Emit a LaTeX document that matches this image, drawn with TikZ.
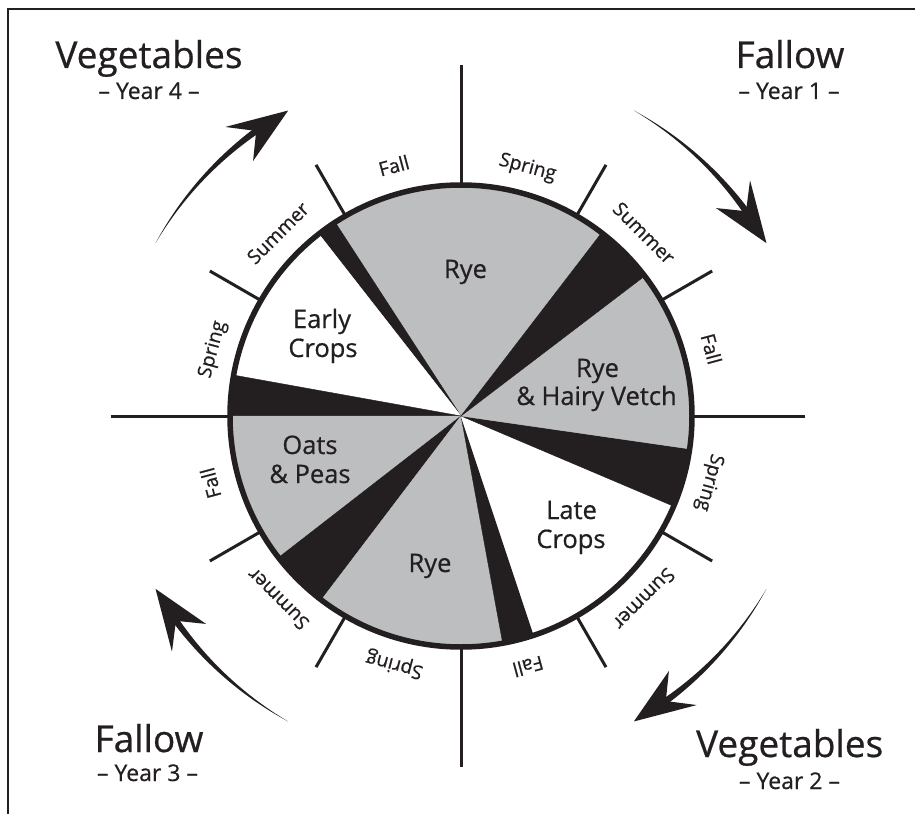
\documentclass[tikz,border=0pt]{standalone}
\usepackage{fontspec}
\setmainfont{Open Sans}[FakeBold=0.6]
\definecolor{ink}{HTML}{231F20}
\definecolor{ryegray}{HTML}{BCBEC0}
\begin{document}
\begin{tikzpicture}[x=1pt,y=1pt,
  season/.style={font=\fontsize{19.5}{19.5}\selectfont, text=ink, anchor=base, inner sep=0pt},
  crop/.style={font=\fontsize{25.5}{28}\selectfont, text=ink, anchor=base, inner sep=0pt},
  title/.style={font=\fontsize{37}{37}\selectfont, text=ink, anchor=base, inner sep=0pt},
  yearlabel/.style={font=\fontsize{23}{23}\selectfont, text=ink, anchor=base, inner sep=0pt},
  axisline/.style={draw=ink, line width=3pt},
  tickline/.style={draw=ink, line width=3pt},
  rim/.style={draw=ink, line width=5.5pt},
  framing/.style={draw=ink, line width=1.2pt},
  arrowfill/.style={fill=ink}]
\useasboundingbox (-461,-398) rectangle (454,416);
\fill[white] (-461,-398) rectangle (454,416);
% frame (top and left only)
\draw[framing] (454,407) -- (-453,407) -- (-453,-398);
% axes
\draw[axisline] (0,351) -- (0,-351);
\draw[axisline] (-350,0) -- (344,0);
% sectors
\foreach \a/\b/\c in {52.5/123/ryegray, 123/128/ink, 128/169.8/white, 169.8/180/ink,
  180/217.8/ryegray, 217.8/232.8/ink, 232.8/280.4/ryegray, 280.4/288.4/ink,
  288.4/337/white, 337/351.8/ink, 351.8/397.3/ryegray, 397.3/412.5/ink}
  \filldraw[fill=\c, draw=\c, line width=0.4pt] (0,0) -- (\a:231pt) arc[start angle=\a, end angle=\b, radius=231pt] -- cycle;
% rim
\draw[rim] (0,0) circle[radius=231pt];
% ticks
\foreach \t in {30,60,120,150,210,240,300,330}
  \draw[tickline] (\t:231pt) -- (\t:290pt);
% season labels
\foreach \ang/\txt [count=\i] in {75/Spring, 45/Summer, 15/Fall, -15/Spring, -45/Summer, -75/Fall,
  -105/Spring, -135/Summer, -165/Fall, 165/Spring, 135/Summer, 105/Fall}
  \node[season, rotate=\ang-90] (season\i) at (\ang:252pt) {\txt};
% crop labels
\node[crop] (rye1) at (4.5,138) {Rye};
\node[crop] (vetchA) at (136.5,39) {Rye};
\node[crop] (vetchB) at (135.5,11) {\& Hairy Vetch};
\node[crop] (earlyA) at (-139,88) {Early};
\node[crop] (earlyB) at (-138,59) {Crops};
\node[crop] (oatsA) at (-151,-38) {Oats};
\node[crop] (oatsB) at (-151,-67) {\& Peas};
\node[crop] (rye2) at (-31,-156) {Rye};
\node[crop] (lateA) at (110.5,-103) {Late};
\node[crop] (lateB) at (110,-132) {Crops};
% titles
\node[title] (veg4) at (-312,348) {Vegetables};
\node[yearlabel] (year4) at (-312,317) {– Year 4 –};
\node[title] (fal1) at (329,348) {Fallow};
\node[yearlabel] (year1) at (328,317) {– Year 1 –};
\node[title] (fal3) at (-312,-336) {Fallow};
\node[yearlabel] (year3) at (-313.5,-365) {– Year 3 –};
\node[title] (veg2) at (328.7,-341) {Vegetables};
\node[yearlabel] (year2) at (328.5,-373) {– Year 2 –};
% curved arrows (clockwise)
\foreach \A in {150.5, 60.5, -29.5, -119.5} {
  \fill[arrowfill] plot[domain=0:1, samples=40, variable=\s] ({\A-25.5*\s}:{351pt+3.3pt*\s})
     -- plot[domain=1:0, samples=40, variable=\s] ({\A-25.5*\s}:{351pt-3.3pt*\s}) -- cycle;
  \fill[arrowfill] (\A-31:351pt) -- (\A-21.3:373pt) -- (\A-24.8:351pt) -- (\A-21.3:329pt) -- cycle;
}
\end{tikzpicture}
\end{document}
